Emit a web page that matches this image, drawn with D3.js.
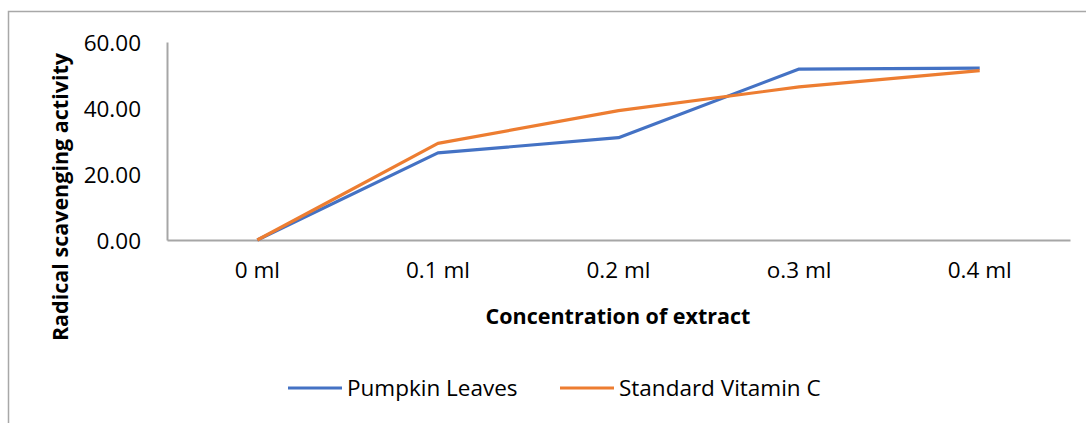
<!DOCTYPE html>
<html>
<head>
<meta charset="utf-8">
<script src="https://cdn.jsdelivr.net/npm/d3@7"></script>
<style>
  body { margin: 0; background: #fff; }
  text { font-family: "Open Sans", "Noto Sans", sans-serif; fill: #000; }
</style>
</head>
<body>
<div id="chart"></div>
<script>
// data
var categories = ["0 ml", "0.1 ml", "0.2 ml", "o.3 ml", "0.4 ml"];
var pumpkinLeaves = [0, 26.4, 31.0, 51.8, 52.1];
var vitaminC = [0, 29.3, 39.2, 46.4, 51.3];
var yTicks = [0, 20, 40, 60];
var seriesNames = ["Pumpkin Leaves", "Standard Vitamin C"];
var seriesColors = ["#4472C4", "#ED7D31"];

var svgWidth = 1086;
var svgHeight = 423;

var margin = { top: 42, right: 16, bottom: 183, left: 167 };
var width = svgWidth - margin.left - margin.right;
var height = svgHeight - margin.top - margin.bottom;

var svg = d3.select("#chart")
  .append("svg")
  .attr("width", svgWidth)
  .attr("height", svgHeight);

// chart frame (runs off the right and bottom edge)
svg.append("rect")
  .attr("x", 8.5)
  .attr("y", 11.5)
  .attr("width", 1200)
  .attr("height", 600)
  .attr("fill", "none")
  .attr("stroke", "#a8a8a8")
  .attr("stroke-width", 1.5);

var chartGroup = svg.append("g")
  .attr("transform", `translate(${margin.left}, ${margin.top})`);

var xScale = d3.scaleBand()
  .domain(categories)
  .range([0, width]);

var yScale = d3.scaleLinear()
  .domain([0, 60])
  .range([height, 0]);

var xAxis = d3.axisBottom(xScale).tickSize(0).tickPadding(22);
var yAxis = d3.axisLeft(yScale).tickValues(yTicks).tickSize(0).tickPadding(26)
  .tickFormat(d3.format(".2f"));

var gx = chartGroup.append("g")
  .attr("transform", `translate(0, ${height})`)
  .call(xAxis);
gx.select(".domain").attr("stroke", "#a6a6a6").attr("stroke-width", 2);
gx.selectAll("text").attr("font-size", "22.5px").attr("dy", "0.71em");

var gy = chartGroup.append("g")
  .call(yAxis);
gy.select(".domain").attr("stroke", "#a6a6a6").attr("stroke-width", 2);
gy.selectAll("text").attr("font-size", "22.5px").attr("dy", "0.36em");

var line = d3.line()
  .x(function(d, i) { return xScale(categories[i]) + xScale.bandwidth() / 2; })
  .y(function(d) { return yScale(d); });

[pumpkinLeaves, vitaminC].forEach(function(values, k) {
  chartGroup.append("path")
    .datum(values)
    .attr("d", line)
    .attr("fill", "none")
    .attr("stroke", seriesColors[k])
    .attr("stroke-width", 3.2)
    .attr("stroke-linejoin", "round");
});

// axis titles
chartGroup.append("text")
  .attr("transform", "rotate(-90)")
  .attr("x", -(197 - margin.top))
  .attr("y", 60 - margin.left)
  .attr("dy", "0.36em")
  .attr("text-anchor", "middle")
  .attr("font-size", "21.5px")
  .attr("font-weight", "bold")
  .text("Radical scavenging activity");

chartGroup.append("text")
  .attr("x", 618 - margin.left)
  .attr("y", 316 - margin.top)
  .attr("dy", "0.36em")
  .attr("text-anchor", "middle")
  .attr("font-size", "21.5px")
  .attr("font-weight", "bold")
  .text("Concentration of extract");

// legend
var legendX = [288, 560];
var legend = svg.append("g");
seriesNames.forEach(function(name, k) {
  legend.append("line")
    .attr("x1", legendX[k])
    .attr("x2", legendX[k] + 54)
    .attr("y1", 388)
    .attr("y2", 388)
    .attr("stroke", seriesColors[k])
    .attr("stroke-width", 3.2);
  legend.append("text")
    .attr("x", legendX[k] + 59)
    .attr("y", 388)
    .attr("dy", "0.36em")
    .attr("font-size", "22.5px")
    .text(name);
});
</script>
</body>
</html>
